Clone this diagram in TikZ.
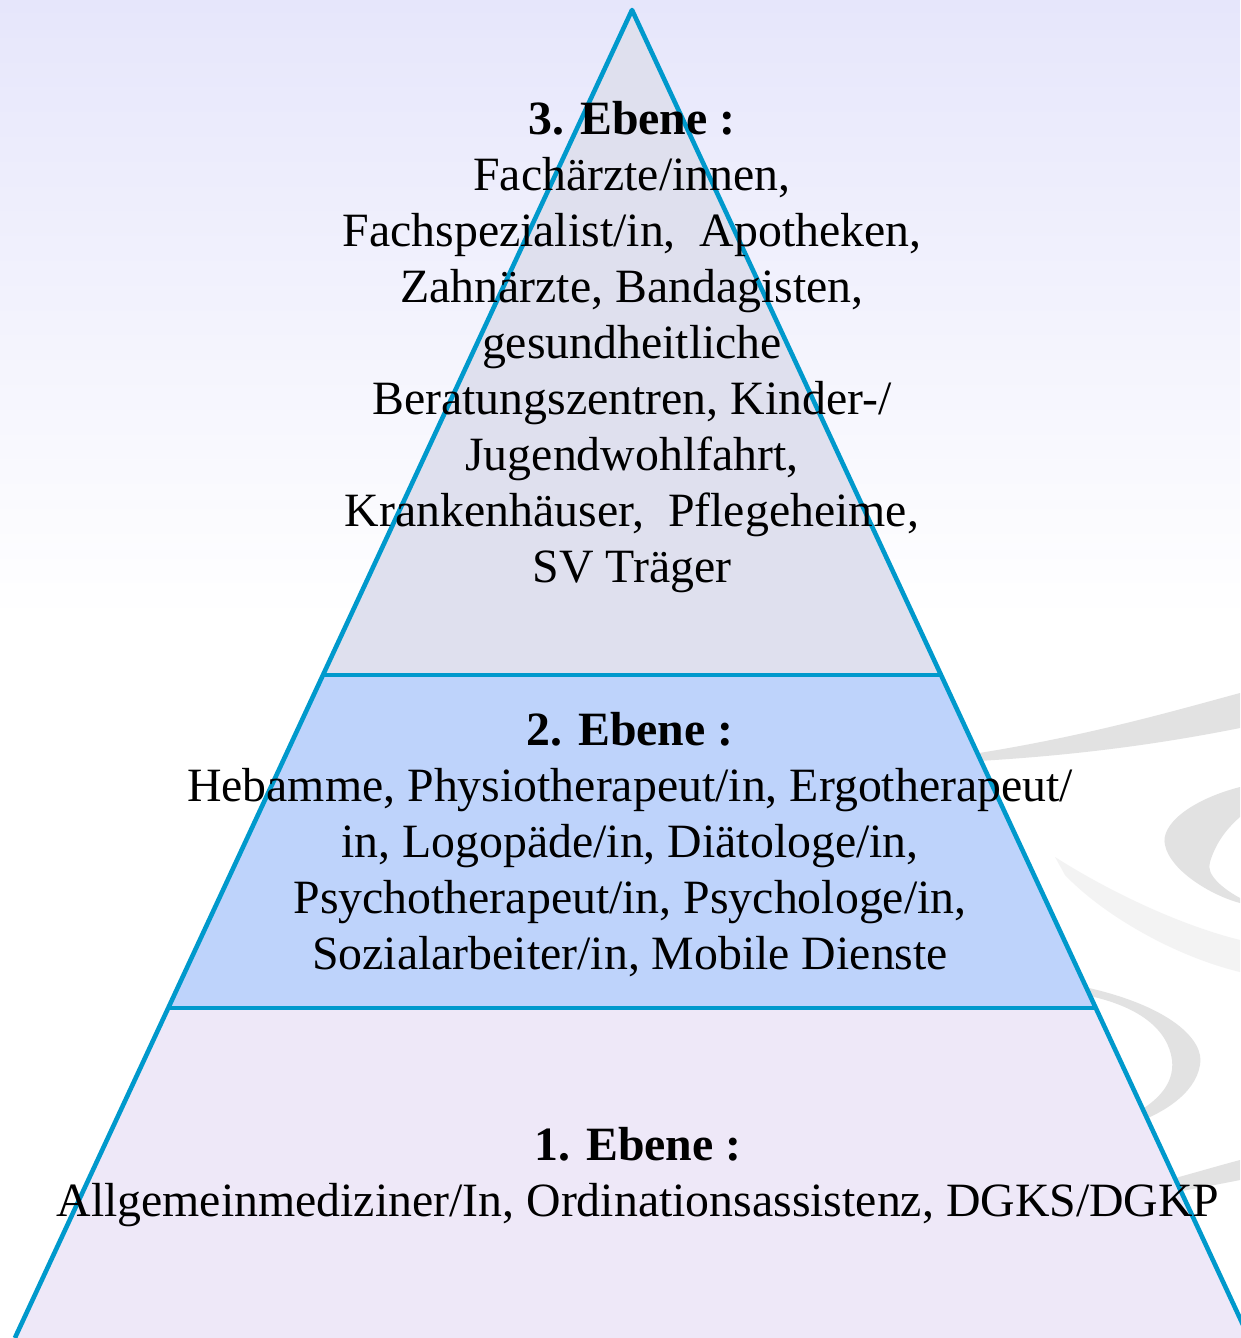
\documentclass[tikz,border=0pt]{standalone}
\usepackage{fontspec}
\setmainfont{Liberation Serif}
\usetikzlibrary{calc}

\begin{document}
\begin{tikzpicture}[x=1pt, y=-1pt,
    level/.style={align=center, inner sep=0pt, font=\fontsize{47.8}{56}\selectfont},
    edge/.style={draw=edgeblue, line width=\lwidth, line join=round}]
  \definecolor{edgeblue}{RGB}{0,153,204}
  \definecolor{topfill}{RGB}{223,224,238}
  \definecolor{midfill}{RGB}{190,211,251}
  \definecolor{lowfill}{RGB}{238,232,248}
  \definecolor{bgtop}{RGB}{230,230,251}
  \definecolor{swirl}{RGB}{226,226,226}
  \definecolor{swirlpale}{RGB}{243,243,243}

  \def\apexx{632}
  \def\apexy{10}
  \def\slope{0.4647}
  \def\cutA{675}
  \def\cutB{1008}
  \def\base{1338}
  \def\lwidth{4.6}

  % background
  \useasboundingbox (0,0) rectangle (1240,1338);
  \fill[white] (0,0) rectangle (1240,1338);
  \shade[top color=bgtop, bottom color=white] (0,0) rectangle (1240,620);

  % swirl behind the pyramid
  \fill[swirl] (960,756) .. controls (1080,738) and (1170,712) .. (1240,693) -- (1240,728) .. controls (1170,742) and (1080,756) .. (960,762) -- cycle;
  \fill[swirl] (1240,787) .. controls (1190,800) and (1160,825) .. (1165,845) .. controls (1170,870) and (1210,895) .. (1240,903)
    -- (1240,898) .. controls (1225,890) and (1205,875) .. (1210,862) .. controls (1215,845) and (1225,830) .. (1240,817) -- cycle;
  \fill[swirlpale] (1055,857) .. controls (1110,892) and (1180,925) .. (1240,940) -- (1240,972) .. controls (1170,955) and (1100,912) .. (1065,875) -- cycle;
  \fill[swirl] (1080,986) .. controls (1170,1005) and (1205,1040) .. (1200,1065) .. controls (1195,1095) and (1160,1115) .. (1130,1125)
    -- (1125,1118) .. controls (1155,1105) and (1175,1085) .. (1172,1060) .. controls (1168,1030) and (1140,1005) .. (1080,994) -- cycle;
  \fill[swirl] (1120,1193) .. controls (1170,1180) and (1210,1168) .. (1240,1160) -- (1240,1180) .. controls (1200,1188) and (1160,1195) .. (1120,1201) -- cycle;

  % pyramid corners
  \coordinate (apex) at (\apexx,\apexy);
  \coordinate (al) at ({\apexx-\slope*(\cutA-\apexy)},\cutA);
  \coordinate (ar) at ({\apexx+\slope*(\cutA-\apexy)},\cutA);
  \coordinate (bl) at ({\apexx-\slope*(\cutB-\apexy)},\cutB);
  \coordinate (br) at ({\apexx+\slope*(\cutB-\apexy)},\cutB);
  \coordinate (cl) at ({\apexx-\slope*(\base-\apexy)},\base);
  \coordinate (cr) at ({\apexx+\slope*(\base-\apexy)},\base);

  % levels
  \fill[topfill] (apex) -- (ar) -- (al) -- cycle;
  \fill[midfill] (al) -- (ar) -- (br) -- (bl) -- cycle;
  \fill[lowfill] (bl) -- (br) -- (cr) -- (cl) -- cycle;
  \draw[edge] (cl) -- (apex) -- (cr);
  \draw[edge] (al) -- (ar);
  \draw[edge] (bl) -- (br);

  % texts
  \node[level] (ebene3) at (632,347) {\textbf{3. Ebene :}\\
    Fachärzte/innen,\\
    Fachspezialist/in,\ \ Apotheken,\\
    Zahnärzte, Bandagisten,\\
    gesundheitliche\\
    Beratungszentren, Kinder-/\\
    Jugendwohlfahrt,\\
    Krankenhäuser,\ \ Pflegeheime,\\
    SV Träger};
  \node[level] (ebene2) at (630,845) {\textbf{2. Ebene :}\\
    Hebamme, Physiotherapeut/in, Ergotherapeut/\\
    in, Logopäde/in, Diätologe/in,\\
    Psychotherapeut/in, Psychologe/in,\\
    Sozialarbeiter/in, Mobile Dienste};
  \node[level] (ebene1) at (638,1177) {\textbf{1. Ebene :}\\
    Allgemeinmediziner/In, Ordinationsassistenz, DGKS/DGKP};
\end{tikzpicture}
\end{document}
